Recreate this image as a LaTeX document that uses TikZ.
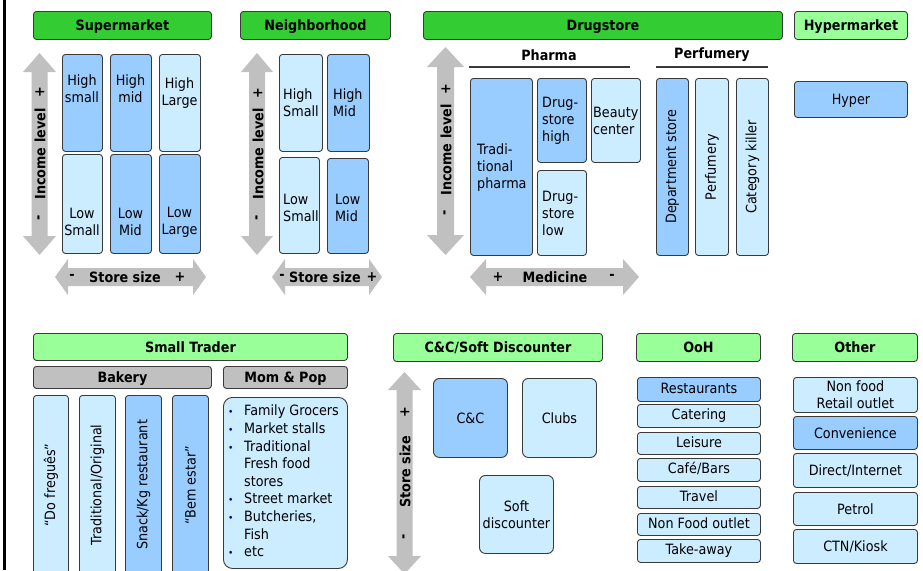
\documentclass[tikz,border=0pt]{standalone}
\usepackage{fontspec}
\setmainfont{DejaVu Sans}[FakeStretch=0.9]

\definecolor{hdgreen}{HTML}{33CC33}
\definecolor{ltgreen}{HTML}{99FF99}
\definecolor{midblue}{HTML}{99CCFF}
\definecolor{paleblue}{HTML}{CCECFF}
\definecolor{arrgray}{HTML}{C0C0C0}
\definecolor{edge}{HTML}{3A3A3A}
\definecolor{bulblue}{HTML}{000099}

\tikzset{
  box/.style={draw=edge, line width=0.9pt, rounded corners=3pt, inner sep=0pt, anchor=north west, align=center},
  sl/.style={text height=9.4pt, text depth=2pt},
  slb/.style={text height=12pt, text depth=1pt},
  hdr/.style={box, slb, font=\fontsize{14.2}{17}\selectfont\bfseries},
  lbl/.style={inner sep=0pt, align=center},
  lbll/.style={inner sep=0pt, align=left, anchor=west},
  axis/.style={inner sep=0pt, font=\fontsize{14.2}{17}\selectfont\bfseries},
  vaxis/.style={axis, rotate=90},
  rule/.style={draw=edge, line width=1.3pt},
}

% rectangle node given by its corners: name, x1, y1, x2, y2, style, text
\newcommand{\cellat}[7]{%
  \node[box,#6, minimum width={#4-#2}, minimum height={#5-#3}] (#1) at (#2,#3) {#7};}

% vertical double block arrow: cx, ytop, ybot, head half width, shaft half width, head length
\newcommand{\varrow}[6]{%
  \fill[arrgray] (#1,#2) -- (#1+#4,#2+#6) -- (#1+#5,#2+#6) -- (#1+#5,#3-#6) -- (#1+#4,#3-#6)
    -- (#1,#3) -- (#1-#4,#3-#6) -- (#1-#5,#3-#6) -- (#1-#5,#2+#6) -- (#1-#4,#2+#6) -- cycle;}

% horizontal double block arrow: cy, xleft, xright, head half height, shaft half height, head length
\newcommand{\harrow}[6]{%
  \fill[arrgray] (#2,#1) -- (#2+#6,#1-#4) -- (#2+#6,#1-#5) -- (#3-#6,#1-#5) -- (#3-#6,#1-#4)
    -- (#3,#1) -- (#3-#6,#1+#4) -- (#3-#6,#1+#5) -- (#2+#6,#1+#5) -- (#2+#6,#1+#4) -- cycle;}

\newcommand{\bul}{\makebox[16pt][l]{\textcolor{bulblue}{\fontsize{10}{10}\selectfont\textbullet}}}
\newcommand{\cont}{\hspace*{16pt}}

\begin{document}
\begin{tikzpicture}[x=1pt, y=-1pt, font=\fontsize{14.2}{17}\selectfont]
\useasboundingbox (0,0) rectangle (923,570);
\fill[white] (0,0) rectangle (923,570);

% left frame edge
\draw[line width=2.5pt] (4.5,0) -- (4.5,570);

%% ---------------- Supermarket ----------------
\cellat{super}{33}{11}{211}{39}{hdr,fill=hdgreen}{Supermarket}
\varrow{39.5}{53}{255}{16.5}{8}{19}
\node[vaxis] (sm-plus) at (40,92) {+};
\node[vaxis] (sm-inc) at (40,154) {Income level};
\node[vaxis] (sm-minus) at (40,218) {-};
\cellat{sm-hs}{62}{54}{102}{151}{fill=midblue}{}
\node[lbl] (sm-hs-t) at (82,89) {High\\small};
\cellat{sm-hm}{110}{54}{151}{151}{fill=midblue}{}
\node[lbl] (sm-hm-t) at (130.5,89) {High\\mid};
\cellat{sm-hl}{159}{54}{200}{151}{fill=paleblue}{}
\node[lbl] (sm-hl-t) at (179.5,93) {High\\Large};
\cellat{sm-ls}{62}{154}{102}{253}{fill=paleblue}{}
\node[lbl] (sm-ls-t) at (82,222) {Low\\Small};
\cellat{sm-lm}{110}{154}{151}{253}{fill=midblue}{}
\node[lbl] (sm-lm-t) at (130.5,222) {Low\\Mid};
\cellat{sm-ll}{159}{154}{200}{253}{fill=midblue}{}
\node[lbl] (sm-ll-t) at (179.5,222) {Low\\Large};
\harrow{277}{55}{206}{18}{9}{13}
\node[axis] (sm-sminus) at (72,277) {-};
\node[axis] (sm-size) at (125,277) {Store size};
\node[axis] (sm-splus) at (180,277) {+};

%% ---------------- Neighborhood ----------------
\cellat{neigh}{240}{11}{390}{39}{hdr,fill=hdgreen}{Neighborhood}
\varrow{257}{53}{255}{16}{8}{19}
\node[vaxis] (nb-plus) at (258,93) {+};
\node[vaxis] (nb-inc) at (258,154) {Income level};
\node[vaxis] (nb-minus) at (258,218) {-};
\cellat{nb-hs}{279}{54}{322}{151}{fill=paleblue}{}
\node[lbll] (nb-hs-t) at (283,103) {High\\Small};
\cellat{nb-hm}{327}{54}{369}{151}{fill=midblue}{}
\node[lbll] (nb-hm-t) at (333,103) {High\\Mid};
\cellat{nb-ls}{279}{157}{319}{253}{fill=paleblue}{}
\node[lbll] (nb-ls-t) at (283,208) {Low\\Small};
\cellat{nb-lm}{327}{158}{368}{253}{fill=midblue}{}
\node[lbll] (nb-lm-t) at (335,208) {Low\\Mid};
\harrow{277}{272}{382}{18}{9}{13}
\node[axis] (nb-sminus) at (282,277) {-};
\node[axis] (nb-size) at (325,277) {Store size};
\node[axis] (nb-splus) at (372,277) {+};

%% ---------------- Drugstore ----------------
\cellat{drug}{423}{11}{782}{39}{hdr,fill=hdgreen}{Drugstore}
\varrow{445.5}{47}{255}{18.5}{8.5}{20}
\node[vaxis] (dr-plus) at (446,89) {+};
\node[vaxis] (dr-inc) at (446,150) {Income level};
\node[vaxis] (dr-minus) at (446,213) {-};
\node[axis] (pharma) at (549,55) {Pharma};
\coordinate (ph-l) at (469,67);
\coordinate (ph-r) at (630,67);
\draw[rule] (ph-l) -- (ph-r);
\node[axis] (perfumery) at (712,55) {Perfumery};
\coordinate (pf-l) at (656,67);
\coordinate (pf-r) at (768,67);
\draw[rule] (pf-l) -- (pf-r);
\cellat{trad}{470}{78}{532}{255}{fill=midblue}{}
\node[lbll] (trad-t) at (477,168) {Tradi-\\tional\\pharma};
\cellat{dsh}{537}{78}{586}{162}{fill=midblue}{}
\node[lbll] (dsh-t) at (542,121) {Drug-\\store\\high};
\cellat{dsl}{537}{170}{586}{255}{fill=paleblue}{}
\node[lbll] (dsl-t) at (542,213) {Drug-\\store\\low};
\cellat{beauty}{591}{78}{640}{162}{fill=paleblue}{}
\node[lbll] (beauty-t) at (593,121) {Beauty\\center};
\cellat{dept}{656}{78}{688}{255}{fill=midblue}{}
\node[lbl, rotate=90] (dept-t) at (dept.center) {Department store};
\cellat{perf}{695}{78}{728}{255}{fill=paleblue}{}
\node[lbl, rotate=90] (perf-t) at (perf.center) {Perfumery};
\cellat{catk}{736}{78}{768}{255}{fill=paleblue}{}
\node[lbl, rotate=90] (catk-t) at (catk.center) {Category killer};
\harrow{277}{470}{639}{18}{9}{16}
\node[axis] (md-plus) at (498,277) {+};
\node[axis] (md-med) at (555,277) {Medicine};
\node[axis] (md-minus) at (612,277) {-};

%% ---------------- Hypermarket ----------------
\cellat{hypermkt}{794}{11}{907}{39}{hdr,fill=ltgreen}{Hypermarket}
\cellat{hyper}{794}{81}{907}{117}{slb,fill=midblue}{Hyper}

%% ---------------- Small Trader ----------------
\cellat{small}{33}{333}{347}{360}{hdr,fill=ltgreen}{Small Trader}
\cellat{bakery}{33}{366}{211}{388}{hdr,fill=arrgray}{Bakery}
\cellat{mompop}{223}{366}{347}{388}{hdr,fill=arrgray}{Mom \& Pop}
\cellat{bk1}{33}{395}{68}{574}{fill=paleblue}{}
\node[lbl, rotate=90] (bk1-t) at (bk1.center) {“Do freguês”};
\cellat{bk2}{79}{395}{115}{574}{fill=paleblue}{}
\node[lbl, rotate=90] (bk2-t) at (bk2.center) {Traditional/Original};
\cellat{bk3}{125}{395}{161}{574}{fill=midblue}{}
\node[lbl, rotate=90] (bk3-t) at (bk3.center) {Snack/Kg restaurant};
\cellat{bk4}{172}{395}{208}{574}{fill=midblue}{}
\node[lbl, rotate=90] (bk4-t) at (bk4.center) {“Bem estar”};
\cellat{mp-list}{223}{397}{347}{568}{fill=paleblue, rounded corners=9pt}{}
\node[inner sep=0pt, align=left, anchor=north west, font=\fontsize{14.2}{17.6}\selectfont] (mp-items) at (228,405)
  {\bul Family Grocers\\ \bul Market stalls\\ \bul Traditional\\ \cont Fresh food\\ \cont stores\\
   \bul Street market\\ \bul Butcheries,\\ \cont Fish\\ \bul etc};

%% ---------------- C&C / Soft Discounter ----------------
\cellat{ccsd}{393}{333}{602}{361}{hdr,fill=ltgreen}{C\&C/Soft Discounter}
\varrow{404.5}{372}{574}{16.5}{8}{18}
\node[vaxis] (cc-plus) at (405,412) {+};
\node[vaxis] (cc-size) at (405,472) {Store size};
\node[vaxis] (cc-minus) at (405,537) {-};
\cellat{cc}{433}{378}{507}{457}{slb,fill=midblue, rounded corners=6pt}{C\&C}
\cellat{clubs}{522}{378}{596}{457}{slb,fill=paleblue, rounded corners=6pt}{Clubs}
\cellat{soft}{479}{475}{553}{553}{fill=paleblue, rounded corners=6pt}{Soft\\discounter}

%% ---------------- OoH ----------------
\cellat{ooh}{636}{333}{760}{361}{hdr,fill=ltgreen}{OoH}
\cellat{rest}{637}{377}{760}{401}{sl,fill=midblue}{Restaurants}
\cellat{cater}{637}{404}{760}{427}{sl,fill=paleblue}{Catering}
\cellat{leis}{637}{432}{760}{454}{sl,fill=paleblue}{Leisure}
\cellat{cafe}{637}{458}{760}{481}{sl,fill=paleblue}{Café/Bars}
\cellat{trav}{637}{486}{760}{508}{sl,fill=paleblue}{Travel}
\cellat{nfo}{637}{513}{760}{535}{sl,fill=paleblue}{Non Food outlet}
\cellat{take}{637}{539}{760}{562}{sl,fill=paleblue}{Take-away}

%% ---------------- Other ----------------
\cellat{other}{792}{333}{917}{361}{hdr,fill=ltgreen}{Other}
\cellat{nfr}{793}{377}{917}{412}{fill=paleblue}{Non food\\Retail outlet}
\cellat{conv}{793}{416}{917}{449}{slb,fill=midblue}{Convenience}
\cellat{direct}{793}{453}{917}{487}{slb,fill=paleblue}{Direct/Internet}
\cellat{petrol}{793}{492}{917}{525}{slb,fill=paleblue}{Petrol}
\cellat{ctn}{793}{529}{917}{563}{slb,fill=paleblue}{CTN/Kiosk}
\end{tikzpicture}
\end{document}
